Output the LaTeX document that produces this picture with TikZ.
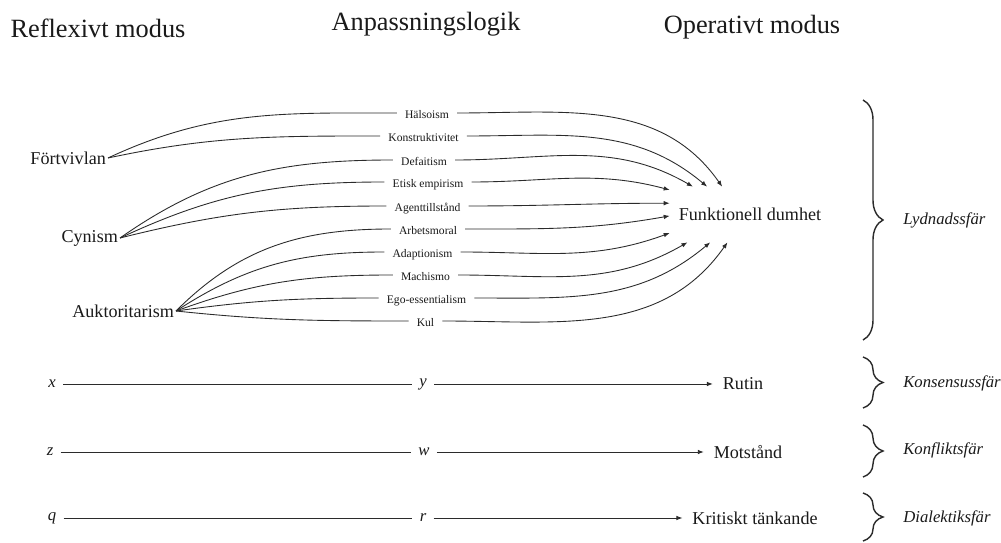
\documentclass[tikz,border=0pt]{standalone}
\usepackage{fontspec}
\setmainfont{Liberation Serif}
\usetikzlibrary{arrows.meta, decorations.pathreplacing}
\definecolor{anInk}{HTML}{1A1A1A}
\definecolor{anLine}{HTML}{2B2B2B}
\newcommand{\fsz}[1]{\fontsize{#1}{#1}\selectfont}
\tikzset{
  head/.style={font=\fsz{15}, text=anInk, inner sep=0pt},
  mode/.style={font=\fsz{10.3}, text=anInk, inner sep=1pt, anchor=east},
  logic/.style={font=\fsz{6.6}, text=anInk, inner xsep=4.5pt, inner ysep=1pt,
    text height=1.5ex, text depth=0.25ex},
  target/.style={font=\fsz{10.3}, text=anInk, inner sep=0pt,
    minimum width=3.2cm, minimum height=1.1cm},
  var/.style={font=\fsz{9.5}\itshape, text=anInk, inner xsep=4pt, inner ysep=1pt},
  outc/.style={font=\fsz{10.3}, text=anInk, inner xsep=5.5pt, inner ysep=1pt},
  sphere/.style={font=\fsz{9.5}\itshape, text=anInk, anchor=west, inner sep=0pt},
  feed/.style={line width=0.5pt, draw=anLine},
  lead/.style={-{Latex[length=3.4pt, width=2.6pt]}, line width=0.5pt, draw=anLine},
  sbrace/.style={decorate, decoration={brace, amplitude=0.4cm}, line width=0.8pt, draw=anLine},
}

\begin{document}
\begin{tikzpicture}[x=0.02cm, y=-0.02cm]
  \path[use as bounding box, fill=white] (0,0) rectangle (1001,543);

  \node[head] (refl) at (98,28) {Reflexivt modus};
  \node[head] (anp)  at (426,24) {Anpassningslogik};
  \node[head] (oper) at (752,27) {Operativt modus};

  \node[mode] (fort) at (108,158) {Förtvivlan};
  \node[mode] (cyn)  at (120,238) {Cynism};
  \node[mode] (auk)  at (176,311) {Auktoritarism};

  \node[logic] (hals)  at (427,113)   {Hälsoism};
  \node[logic] (konst) at (423.5,136) {Konstruktivitet};
  \node[logic] (defa)  at (424,160)   {Defaitism};
  \node[logic] (etisk) at (428,182)   {Etisk empirism};
  \node[logic] (agent) at (427.5,206) {Agenttillstånd};
  \node[logic] (arbet) at (428,229)   {Arbetsmoral};
  \node[logic] (adapt) at (422.5,252) {Adaptionism};
  \node[logic] (mach)  at (425.5,275) {Machismo};
  \node[logic] (ego)   at (426.5,298) {Ego-essentialism};
  \node[logic] (kul)   at (425.5,321) {Kul};

  \node[target] (fd) at (750,214.5) {Funktionell dumhet};

  \draw[feed] (fort.east) to[out=25, in=180] (hals.west);
  \draw[feed] (fort.east) to[out=12, in=180] (konst.west);
  \draw[feed] (cyn.east)  to[out=35, in=180] (defa.west);
  \draw[feed] (cyn.east)  to[out=25, in=180] (etisk.west);
  \draw[feed] (cyn.east)  to[out=14, in=180] (agent.west);
  \draw[feed] (auk.east)  to[out=45, in=180] (arbet.west);
  \draw[feed] (auk.east)  to[out=33, in=180] (adapt.west);
  \draw[feed] (auk.east)  to[out=20, in=180] (mach.west);
  \draw[feed] (auk.east)  to[out=8,  in=180] (ego.west);
  \draw[feed] (auk.east)  to[out=-6, in=180] (kul.west);

  \draw[lead] (hals.east)  to[out=0, in=125] (fd.135.5);
  \draw[lead] (konst.east) to[out=0, in=140] (fd.147.8);
  \draw[lead] (defa.east)  to[out=0, in=150] (fd.154.6);
  \draw[lead] (etisk.east) to[out=0, in=165] (fd.163.6);
  \draw[lead] (agent.east) to[out=0, in=180] (fd.172.5);
  \draw[lead] (arbet.east) to[out=0, in=190] (fd.181.8);
  \draw[lead] (adapt.east) to[out=0, in=200] (fd.193.3);
  \draw[lead] (mach.east)  to[out=0, in=210] (fd.204);
  \draw[lead] (ego.east)   to[out=0, in=220] (fd.215.9);
  \draw[lead] (kul.east)   to[out=0, in=235] (fd.231.3);

  \node[var]  (x) at (52,384)  {x};
  \node[var]  (y) at (423,384) {y};
  \node[outc] (rutin) at (743,384) {Rutin};
  \node[var]  (z) at (50,452)  {z};
  \node[var]  (w) at (424,452) {w};
  \node[outc] (mot) at (748,452) {Motstånd};
  \node[var]  (q) at (52,518)  {q};
  \node[var]  (r) at (423,518) {r};
  \node[outc] (krit) at (755,518) {Kritiskt tänkande};

  \draw[feed] (x) -- (y);
  \draw[lead] (y) -- (rutin);
  \draw[feed] (z) -- (w);
  \draw[lead] (w) -- (mot);
  \draw[feed] (q) -- (r);
  \draw[lead] (r) -- (krit);

  \draw[sbrace] (863,100) -- (863,340);
  \draw[sbrace] (863,357) -- (863,408);
  \draw[sbrace] (863,425) -- (863,477);
  \draw[sbrace] (863,493) -- (863,541);

  \node[sphere] (lyd)  at (903,220) {Lydnadssfär};
  \node[sphere] (kons) at (903,383) {Konsensussfär};
  \node[sphere] (konf) at (903,450) {Konfliktsfär};
  \node[sphere] (dial) at (903,518) {Dialektiksfär};
\end{tikzpicture}
\end{document}
